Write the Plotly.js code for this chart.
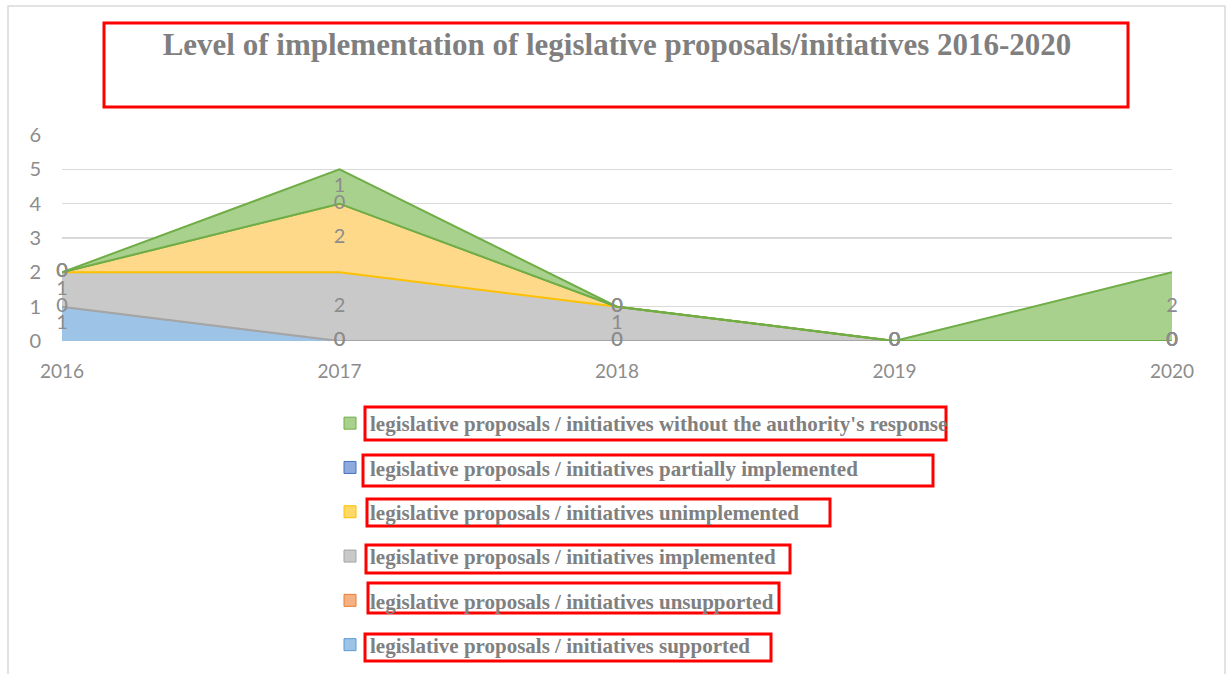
<!DOCTYPE html>
<html>
<head>
<meta charset="utf-8">
<script src="https://cdn.plot.ly/plotly-3.0.1.min.js"></script>
<style>html,body{margin:0;padding:0;background:#fff;}#chart{width:1231px;height:674px;}</style>
</head>
<body>
<div id="chart"></div>
<script>
// ---- data ----
const years = [2016, 2017, 2018, 2019, 2020];
// stacking order, bottom to top
const supported   = [1, 0, 0, 0, 0];
const unsupported = [0, 0, 0, 0, 0];
const implemented = [1, 2, 1, 0, 0];
const unimplemented = [0, 2, 0, 0, 0];
const partially   = [0, 0, 0, 0, 0];
const noResponse  = [0, 1, 0, 0, 2];

const nameSupported   = "legislative proposals / initiatives supported";
const nameUnsupported = "legislative proposals / initiatives unsupported";
const nameImplemented = "legislative proposals / initiatives implemented";
const nameUnimplemented = "legislative proposals / initiatives unimplemented";
const namePartially   = "legislative proposals / initiatives partially implemented";
const nameNoResponse  = "legislative proposals / initiatives without the authority's response";

const titleText = "Level of implementation of legislative proposals/initiatives 2016-2020";
const yTicks = [0, 1, 2, 3, 4, 5, 6];

// ---- styles ----
const series = [
  {name: nameSupported,     v: supported,     fill: "#9dc3e6", line: "#a5a5a5", mark: "#9dc3e6", markLine: "#5b9bd5"},
  {name: nameUnsupported,   v: unsupported,   fill: "#f4b183", line: "#a5a5a5", mark: "#f4b183", markLine: "#ed7d31"},
  {name: nameImplemented,   v: implemented,   fill: "#c9c9c9", line: "#ffc000", mark: "#c9c9c9", markLine: "#a5a5a5"},
  {name: nameUnimplemented, v: unimplemented, fill: "#ffd98a", line: "#70ad47", mark: "#ffd966", markLine: "#ffc000"},
  {name: namePartially,     v: partially,     fill: "#8faadc", line: "#70ad47", mark: "#8faadc", markLine: "#4472c4"},
  {name: nameNoResponse,    v: noResponse,    fill: "#a9d18e", line: "#70ad47", mark: "#a9d18e", markLine: "#70ad47"}
];
const legendOrder = [5, 4, 3, 2, 1, 0];

const traces = [];
const base = years.map(() => 0);
series.forEach((s) => {
  traces.push({
    x: years, y: s.v, type: "scatter", mode: "lines", stackgroup: "one",
    fillcolor: s.fill, line: {color: s.line, width: 2}, showlegend: false, hoverinfo: "skip"
  });
});
// data labels at band midpoints
series.forEach((s) => {
  const mids = s.v.map((v, i) => base[i] + v / 2);
  s.v.forEach((v, i) => { base[i] += v; });
  traces.push({
    x: years, y: mids, type: "scatter", mode: "text", text: s.v.map(String),
    textposition: "middle center", textfont: {family: "Lato, 'Open Sans', sans-serif", size: 20, color: "#8c8c8c"},
    showlegend: false, hoverinfo: "skip", cliponaxis: false
  });
});
// legend entries
legendOrder.forEach((k) => {
  const s = series[k];
  traces.push({
    x: [null], y: [null], type: "scatter", mode: "markers", name: s.name, legendgroup: "g" + k,
    marker: {symbol: "square", size: 12, color: s.mark, line: {color: s.markLine, width: 1}}
  });
});

// pixel -> paper helpers (plot area: x 62..1172, y 135..341)
const L = 62, R = 1172, T = 135, B = 341;
const px = (p) => (p - L) / (R - L);
const py = (p) => (B - p) / (B - T);
const rect = (x0, y0, x1, y1, color, w) => ({
  type: "rect", xref: "paper", yref: "paper",
  x0: px(x0), x1: px(x1), y0: py(y1), y1: py(y0),
  line: {color: color, width: w}, fillcolor: "rgba(0,0,0,0)", layer: "above"
});

const shapes = [
  rect(8, 6, 1225, 690, "#d9d9d9", 1.5),
  rect(104, 23, 1128, 107, "#ff0000", 3),
  rect(365, 407, 946, 440, "#ff0000", 3),
  rect(363, 455, 933, 486, "#ff0000", 3),
  rect(367, 499, 830, 526, "#ff0000", 3),
  rect(366, 545, 790, 573, "#ff0000", 3),
  rect(368, 583, 779, 613, "#ff0000", 3),
  rect(365, 634, 771, 661, "#ff0000", 3)
];

const layout = {
  width: 1231, height: 674,
  margin: {l: L, r: 1231 - R, t: T, b: 674 - B, pad: 0, autoexpand: false},
  paper_bgcolor: "#ffffff", plot_bgcolor: "#ffffff",
  title: {
    text: "<b>" + titleText + "</b>",
    font: {family: "'Liberation Serif', 'Times New Roman', serif", size: 31, color: "#7f7f7f"},
    x: 617 / 1231, xanchor: "center", xref: "container",
    y: 1 - 44 / 674, yanchor: "middle", yref: "container"
  },
  xaxis: {
    range: [years[0], years[years.length - 1]], tickvals: years, ticktext: years.map(String),
    showgrid: false, zeroline: false, showline: false, ticks: "",
    ticklabelstandoff: 17,
    tickfont: {family: "Lato, 'Open Sans', sans-serif", size: 19, color: "#8c8c8c"}
  },
  yaxis: {
    range: [0, 6], tickvals: yTicks, showgrid: true, gridcolor: "#d9d9d9", gridwidth: 1.3,
    zeroline: false, showline: false, ticks: "", ticklabelstandoff: 20,
    tickfont: {family: "Lato, 'Open Sans', sans-serif", size: 20, color: "#8c8c8c"}
  },
  showlegend: true,
  legend: {
    x: px(330), xanchor: "left", y: py(403), yanchor: "top",
    traceorder: "grouped", tracegroupgap: 14,
    font: {family: "'Liberation Serif', 'Times New Roman', serif", size: 21, color: "#808080", weight: "bold"},
    bgcolor: "rgba(0,0,0,0)", itemwidth: 30
  },
  shapes: shapes
};

Plotly.newPlot("chart", traces, layout, {displayModeBar: false, staticPlot: true});
</script>
</body>
</html>
